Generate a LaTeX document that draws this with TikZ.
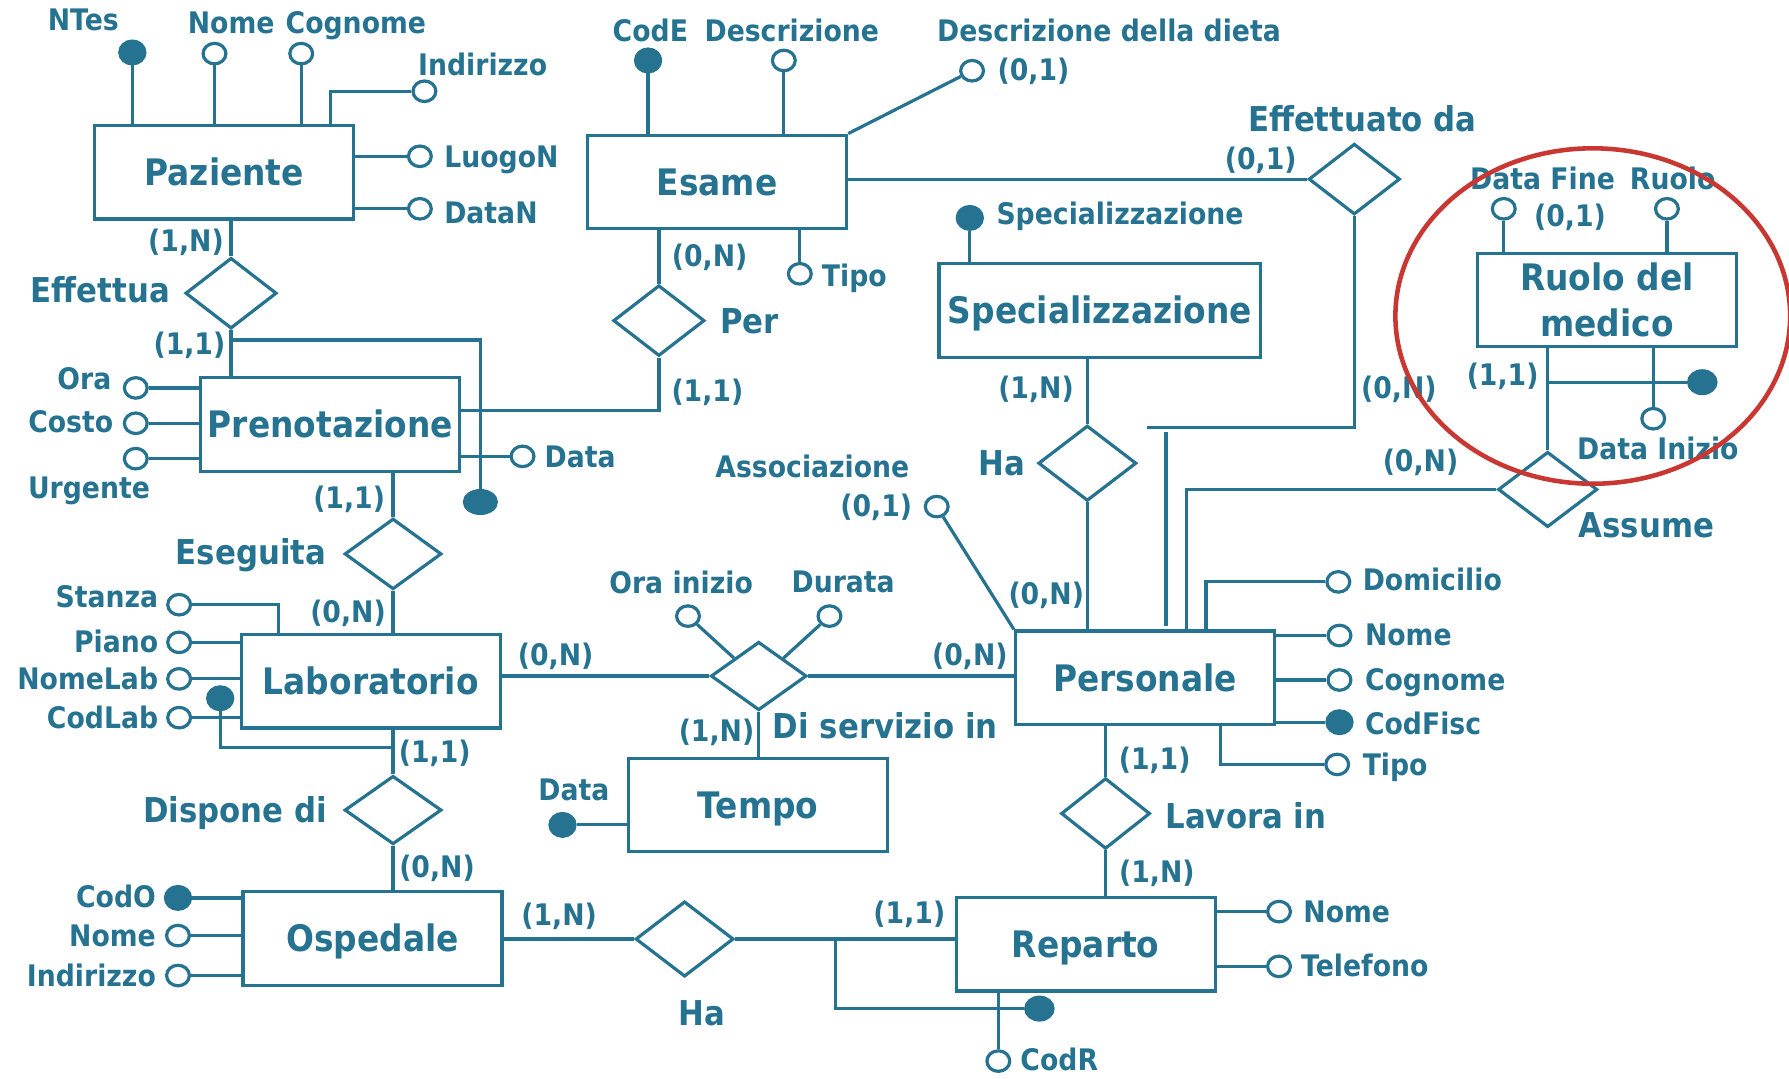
\documentclass[tikz,border=0pt]{standalone}
\usepackage{fontspec}
\setmainfont{DejaVu Sans}[FakeStretch=0.9, UprightFont=* Bold]
\usetikzlibrary{shapes.geometric}
\definecolor{ercol}{RGB}{38,115,145}
\definecolor{ringred}{RGB}{200,55,50}
\newcommand\entfnt{\fontsize{16}{20}\selectfont}
\newcommand\relfnt{\fontsize{15}{18}\selectfont}
\newcommand\attfnt{\fontsize{13}{15}\selectfont}
\begin{document}
\begin{tikzpicture}[x=0.5pt,y=-0.5pt,color=ercol,line width=1.4pt,
  ent0/.style={draw,rectangle,inner sep=0pt,minimum width=113.5pt,minimum height=41pt,font=\entfnt},
  ent/.style={ent0,text height=11.7pt,text depth=0pt},
  rel/.style={draw,diamond,inner sep=0pt,minimum width=40pt,minimum height=31pt},
  att/.style={draw,ellipse,inner sep=0pt,minimum width=10pt,minimum height=9pt,fill=white},
  key/.style={att,fill=ercol,minimum width=11pt,minimum height=10pt},
  lab/.style={font=\attfnt,inner sep=0pt,text height=9.5pt,text depth=0pt},
  rlab/.style={font=\relfnt,inner sep=0pt,text height=10.9pt,text depth=0pt}]
\useasboundingbox (0,0) rectangle (1568,945);

% ---------- entities
\node[ent] (paz) at (196.5,151) {Paziente};
\node[ent] (esa) at (628.5,159.5) {Esame};
\node[ent,minimum width=141pt] (spe) at (964,272) {Specializzazione};
\node[ent0,align=center] (ruo) at (1408.5,263) {Ruolo del\\medico};
\node[ent] (pre) at (289.5,372) {Prenotazione};
\node[ent] (lab) at (325,597) {Laboratorio};
\node[ent] (pers) at (1003.5,594) {Personale};
\node[ent] (tem) at (664.5,705.5) {Tempo};
\node[ent] (osp) at (326.5,822.5) {Ospedale};
\node[ent] (rep) at (951.5,827.5) {Reparto};

% ---------- relationships
\node[rel] (eff) at (202.5,257) {};
\node[rel] (perR) at (577.5,281) {};
\node[rel] (effda) at (1187,157) {};
\node[rel,minimum width=43pt,minimum height=33pt] (ha1) at (953,406) {};
\node[rel,minimum width=42.5pt] (ese) at (344.5,485.5) {};
\node[rel,minimum width=43.5pt,minimum height=33pt] (ass) at (1356.5,429) {};
\node[rel,minimum width=42pt,minimum height=30pt] (dis) at (665,592.5) {};
\node[rel,minimum width=42.5pt,minimum height=30pt] (disp) at (344.5,710) {};
\node[rel,minimum width=39pt] (lav) at (969,713) {};
\node[rel,minimum width=43pt,minimum height=33pt] (ha2) at (600,823) {};

% ---------- relationship labels
\node[rlab] (tEff) at (88,254) {Effettua};
\node[rlab] (tPer) at (657,281) {Per};
\node[rlab] (tEffda) at (1194,104) {Effettuato da};
\node[rlab] (tHa1) at (878,406) {Ha};
\node[rlab] (tEse) at (220,484) {Eseguita};
\node[rlab] (tAss) at (1443,460) {Assume};
\node[rlab] (tDis) at (776,636) {Di servizio in};
\node[rlab] (tDisp) at (206,710) {Dispone di};
\node[rlab] (tLav) at (1092,715) {Lavora in};
\node[rlab] (tHa2) at (615,888) {Ha};

% ---------- relationship connectors
\draw (eff.north) -- (eff.north |- paz.south);
\draw (eff.south) -- (eff.south |- pre.north);
\draw (pre.east |- 0,360) -| (perR.south);
\draw (perR.north) -- (perR.north |- esa.south);
\draw (effda.west) -- (effda.west -| esa.east);
\coordinate (effEnd) at (1005,375);
\draw (effda.south) |- (effEnd);
\coordinate (effTop) at (1022,379);
\coordinate (effBot) at (1022,549);
\draw (effTop) -- (effBot);
\draw (ha1.north) -- (ha1.north |- spe.south);
\draw (ha1.south) -- (ha1.south |- pers.north);
\draw (ass.west) -| (1040,0 |- pers.north);
\draw (ass.north) -- (ass.north |- ruo.south);
\draw (ese.north) -- (ese.north |- pre.south);
\draw (ese.south) -- (ese.south |- lab.north);
\draw (dis.west) -- (dis.west -| lab.east);
\draw (dis.east) -- (dis.east -| pers.west);
\draw (dis.south) -- (dis.south |- tem.north);
\draw (disp.north) -- (disp.north |- lab.south);
\draw (disp.south) -- (disp.south |- osp.north);
\draw (lav.north) -- (lav.north |- pers.south);
\draw (lav.south) -- (lav.south |- rep.north);
\draw (ha2.west) -- (ha2.west -| osp.east);
\draw (ha2.east) -- (ha2.east -| rep.west);

% ---------- cardinalities
\node[lab] (c1) at (163,211) {(1,N)};
\node[lab] (c2) at (166,301) {(1,1)};
\node[lab] (c3) at (622,224) {(0,N)};
\node[lab] (c4) at (620,342) {(1,1)};
\node[lab] (c5) at (1105,139) {(0,1)};
\node[lab] (c6) at (908,340) {(1,N)};
\node[lab] (c7) at (1226,340) {(0,N)};
\node[lab] (c8) at (1317,328) {(1,1)};
\node[lab] (c9) at (1245,404) {(0,N)};
\node[lab] (c10) at (306,436) {(1,1)};
\node[lab] (c11) at (305,536) {(0,N)};
\node[lab] (c12) at (487,574) {(0,N)};
\node[lab] (c13) at (850,574) {(0,N)};
\node[lab] (c14) at (628,640) {(1,N)};
\node[lab] (c15) at (917,520) {(0,N)};
\node[lab] (c16) at (381,659) {(1,1)};
\node[lab] (c17) at (383,760) {(0,N)};
\node[lab] (c18) at (490,802) {(1,N)};
\node[lab] (c19) at (797,800) {(1,1)};
\node[lab] (c20) at (1012,665) {(1,1)};
\node[lab] (c21) at (1014,764) {(1,N)};

% ---------- Paziente attributes
\node[key] (aNtes) at (116,46) {};
\node[att] (aPnome) at (188,47) {};
\node[att] (aPcog) at (264,47) {};
\node[att] (aPind) at (372,80) {};
\node[att] (aLuogo) at (368,137) {};
\node[att] (aDatan) at (368,183) {};
\draw (aNtes.south) -- (aNtes.south |- paz.north);
\draw (aPnome.south) -- (aPnome.south |- paz.north);
\draw (aPcog.south) -- (aPcog.south |- paz.north);
\draw (aPind.west) -| (290,0 |- paz.north);
\draw (aLuogo.west) -- (aLuogo.west -| paz.east);
\draw (aDatan.west) -- (aDatan.west -| paz.east);
\node[lab] (lNtes) at (73,17) {NTes};
\node[lab,anchor=east] (lPnome) at (242,20) {Nome};
\node[lab,anchor=west] (lPcog) at (249,20) {Cognome};
\node[lab] (lPind) at (423,57) {Indirizzo};
\node[lab,anchor=west] (lLuogo) at (388,137) {LuogoN};
\node[lab,anchor=west] (lDatan) at (388,186) {DataN};

% ---------- Esame attributes
\node[key] (aCode) at (568,53) {};
\node[att] (aDesc) at (687,53) {};
\node[att] (aDieta) at (852,62) {};
\node[att] (aEtipo) at (701,240) {};
\draw (aCode.south) -- (aCode.south |- esa.north);
\draw (aDesc.south) -- (aDesc.south |- esa.north);
\draw (esa.north east) -- (aDieta);
\draw (aEtipo.north) -- (aEtipo.north |- esa.south);
\node[lab] (lCode) at (570,27) {CodE};
\node[lab] (lDesc) at (694,27) {Descrizione};
\node[lab] (lDieta) at (972,27) {Descrizione della dieta};
\node[lab,anchor=west] (lDieta2) at (873,61) {(0,1)};
\node[lab,anchor=west] (lEtipo) at (719,242) {Tipo};

% ---------- Specializzazione attribute
\node[key] (aSpec) at (850,191) {};
\draw (aSpec.south) -- (aSpec.south |- spe.north);
\node[lab,anchor=west] (lSpec) at (872,187) {Specializzazione};

% ---------- Ruolo del medico attributes
\node[att] (aDfine) at (1318,183) {};
\node[att] (aRuolo) at (1461,183) {};
\node[att] (aDini) at (1449,367) {};
\node[key,minimum width=12pt] (kRuo) at (1492,335) {};
\draw (aDfine.south) -- (aDfine.south |- ruo.north);
\draw (aRuolo.south) -- (aRuolo.south |- ruo.north);
\draw (aDini.north) -- (aDini.north |- ruo.south);
\draw (ass.north |- kRuo.west) -- (kRuo.west);
\node[lab] (lDfine) at (1352,157) {Data Fine};
\node[lab] (lRuolo) at (1466,157) {Ruolo};
\node[lab] (lDfine2) at (1376,189) {(0,1)};
\node[lab] (lDini) at (1453,393) {Data Inizio};

% ---------- Prenotazione attributes
\node[att] (aOra) at (119,340) {};
\node[att] (aCosto) at (119,371) {};
\node[att] (aUrg) at (119,402) {};
\node[att] (aPdata) at (458,400) {};
\node[key,minimum width=14pt,minimum height=10pt] (kPre) at (421,440) {};
\draw (aOra.east) -- (aOra.east -| pre.west);
\draw (aCosto.east) -- (aCosto.east -| pre.west);
\draw (aUrg.east) -- (aUrg.east -| pre.west);
\draw (aPdata.west) -- (aPdata.west -| pre.east);
\draw (eff.south |- 0,298) -| (kPre.north);
\node[lab] (lOra) at (74,332) {Ora};
\node[lab] (lCosto) at (62,370) {Costo};
\node[lab] (lUrg) at (78,427) {Urgente};
\node[lab,anchor=west] (lPdata) at (476,400) {Data};

% ---------- Laboratorio attributes
\node[att] (aStanza) at (157,530) {};
\node[att] (aPiano) at (157,563) {};
\node[att] (aNlab) at (157,595) {};
\node[att] (aCodlab) at (157,629) {};
\node[key] (kLab) at (193,612) {};
\draw (aStanza.east) -| (244,0 |- lab.north);
\draw (aPiano.east) -- (aPiano.east -| lab.west);
\draw (aNlab.east) -- (aNlab.east -| lab.west);
\draw (aCodlab.east) -- (aCodlab.east -| lab.west);
\draw (kLab.south) |- (disp.north |- 0,655);
\node[lab,anchor=east] (lStanza) at (140,523) {Stanza};
\node[lab,anchor=east] (lPiano) at (140,562) {Piano};
\node[lab,anchor=east] (lNlab) at (140,595) {NomeLab};
\node[lab,anchor=east] (lCodlab) at (140,629) {CodLab};

% ---------- Di servizio in attributes
\node[att] (aOrain) at (603,540) {};
\node[att] (aDurata) at (727,540) {};
\draw (aOrain) -- (dis.north west);
\draw (aDurata) -- (dis.north east);
\node[lab] (lOrain) at (597,511) {Ora inizio};
\node[lab] (lDurata) at (739,510) {Durata};

% ---------- Tempo attribute
\node[key] (kTem) at (493,723) {};
\draw (kTem.east) -- (kTem.east -| tem.west);
\node[lab] (lTdata) at (503,692) {Data};

% ---------- Personale attributes
\node[att] (aDom) at (1173,510) {};
\node[att] (aPnome2) at (1174,557) {};
\node[att] (aPcog2) at (1174,596) {};
\node[key] (kCf) at (1174,633) {};
\node[att] (aPtipo) at (1172,670) {};
\node[att] (aAssoc) at (821,444) {};
\draw (aDom.west) -| (1057,0 |- pers.north);
\draw (aPnome2.west) -- (aPnome2.west -| pers.east);
\draw (aPcog2.west) -- (aPcog2.west -| pers.east);
\draw (kCf.west) -- (kCf.west -| pers.east);
\draw (aPtipo.west) -| (1070,0 |- pers.south);
\draw (pers.north west) -- (aAssoc);
\node[lab,anchor=west] (lDom) at (1193,508) {Domicilio};
\node[lab,anchor=west] (lPnome2) at (1195,556) {Nome};
\node[lab,anchor=west] (lPcog2) at (1195,596) {Cognome};
\node[lab,anchor=west] (lCf) at (1195,634) {CodFisc};
\node[lab,anchor=west] (lPtipo) at (1193,670) {Tipo};
\node[lab] (lAssoc) at (712,409) {Associazione};
\node[lab] (lAssoc2) at (768,443) {(0,1)};

% ---------- Ospedale attributes
\node[key] (kOsp) at (156,787) {};
\node[att] (aOnome) at (156,820) {};
\node[att] (aOind) at (156,855) {};
\draw (kOsp.east) -- (kOsp.east -| osp.west);
\draw (aOnome.east) -- (aOnome.east -| osp.west);
\draw (aOind.east) -- (aOind.east -| osp.west);
\node[lab,anchor=east] (lCodo) at (138,786) {CodO};
\node[lab,anchor=east] (lOnome) at (138,820) {Nome};
\node[lab,anchor=east] (lOind) at (138,855) {Indirizzo};

% ---------- Reparto attributes
\node[att] (aRnome) at (1121,799) {};
\node[att] (aRtel) at (1121,847) {};
\node[att] (aCodr) at (875,930) {};
\node[key,minimum width=12pt] (kRep) at (911,884) {};
\draw (aRnome.west) -- (aRnome.west -| rep.east);
\draw (aRtel.west) -- (aRtel.west -| rep.east);
\draw (aCodr.north) -- (aCodr.north |- rep.south);
\draw (732,0 |- ha2.east) |- (kRep.west);
\node[lab,anchor=west] (lRnome) at (1141,799) {Nome};
\node[lab,anchor=west] (lRtel) at (1139,846) {Telefono};
\node[lab,anchor=west] (lCodr) at (893,929) {CodR};

% ---------- highlight ring
\draw[ringred,line width=2pt] (1396,277) ellipse [x radius=173, y radius=147];
\end{tikzpicture}
\end{document}
